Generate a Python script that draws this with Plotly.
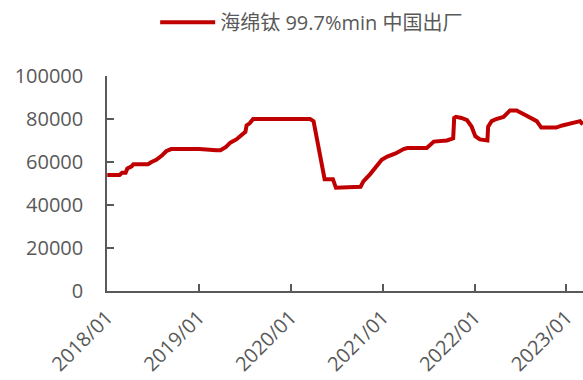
import plotly.graph_objects as go

# 海绵钛 99.7%min 中国出厂 price (元/吨), dates at price changes
dates = [
    "2018-01-02", "2018-02-20", "2018-03-02", "2018-03-16", "2018-03-23", "2018-04-09",
    "2018-04-16", "2018-06-13", "2018-06-27", "2018-07-16", "2018-08-07", "2018-08-24",
    "2018-09-13", "2019-01-04", "2019-03-11", "2019-03-28", "2019-04-19", "2019-05-06",
    "2019-05-30", "2019-06-20", "2019-07-05", "2019-07-10", "2019-07-22", "2019-08-05",
    "2020-03-18", "2020-04-01", "2020-04-16", "2020-04-28", "2020-05-05", "2020-05-15",
    "2020-06-17", "2020-06-29", "2020-10-05", "2020-10-16", "2020-11-13", "2020-12-10",
    "2020-12-28", "2021-01-19", "2021-02-21", "2021-03-25", "2021-04-09", "2021-06-25",
    "2021-07-09", "2021-07-23", "2021-09-13", "2021-10-08", "2021-10-12", "2021-10-19",
    "2021-11-10", "2021-12-02", "2021-12-20", "2022-01-04", "2022-01-22", "2022-02-21",
    "2022-02-24", "2022-03-10", "2022-03-28", "2022-04-26", "2022-05-22", "2022-06-17",
    "2022-07-27", "2022-09-05", "2022-09-23", "2022-11-21", "2022-12-16", "2023-02-06",
    "2023-02-24", "2023-03-07",
]
prices = [
    54000, 54000, 55000, 55000, 57000, 58000,
    59000, 59000, 60000, 61000, 63000, 65000,
    66000, 66000, 65500, 65500, 67000, 69000,
    70500, 72500, 74000, 77000, 78000, 80000,
    80000, 79000, 70000, 61000, 58000, 52000,
    52000, 48000, 48500, 51000, 54500, 58500,
    61000, 62500, 64000, 66000, 66500, 66500,
    68000, 69500, 70000, 71000, 80500, 81000,
    80500, 79500, 76500, 72000, 70500, 70000,
    76500, 79000, 80000, 81000, 84000, 84000,
    81500, 79000, 76000, 76000, 77000, 78500,
    79000, 77500,
]

tick_dates = ["2018-01-01", "2019-01-01", "2020-01-01", "2021-01-01", "2022-01-01", "2023-01-01"]
tick_labels = ["2018/01", "2019/01", "2020/01", "2021/01", "2022/01", "2023/01"]
y_ticks = [0, 20000, 40000, 60000, 80000, 100000]
y_labels = ["0", "20000", "40000", "60000", "80000", "100000"]

series_name = "海绵钛 99.7%min 中国出厂"

FONT = "Open Sans, Noto Sans CJK SC"
GREY = "#595959"

fig = go.Figure()
fig.add_trace(go.Scatter(
    x=dates, y=prices, mode="lines", name=series_name,
    line=dict(color="#C00000", width=4),
))

fig.update_layout(
    width=583, height=380,
    margin=dict(l=107, r=0, t=76, b=89),
    paper_bgcolor="white", plot_bgcolor="white",
    font=dict(family=FONT, size=20, color=GREY),
    showlegend=True,
    legend=dict(
        orientation="h", x=0.43, xanchor="center", y=1.25, yanchor="middle",
        font=dict(family=FONT, size=20, color=GREY), itemwidth=55,
        bgcolor="rgba(0,0,0,0)",
    ),
    xaxis=dict(
        type="date", range=["2018-01-01", "2023-03-08"], automargin=False,
        tickvals=tick_dates, ticktext=tick_labels, tickangle=-45,
        ticks="inside", ticklen=7, tickwidth=1.5, tickcolor=GREY,
        showline=True, linecolor=GREY, linewidth=1.5,
        showgrid=False, zeroline=False, ticklabelstandoff=5,
        tickfont=dict(family=FONT, size=20, color=GREY),
    ),
    yaxis=dict(
        range=[0, 100000], tickvals=y_ticks, ticktext=y_labels, automargin=False,
        ticks="inside", ticklen=7, tickwidth=1.5, tickcolor=GREY,
        showline=True, linecolor=GREY, linewidth=1.5,
        showgrid=False, zeroline=False, ticklabelstandoff=18,
        tickfont=dict(family=FONT, size=20, color=GREY),
    ),
)

fig.write_html("out.html")
